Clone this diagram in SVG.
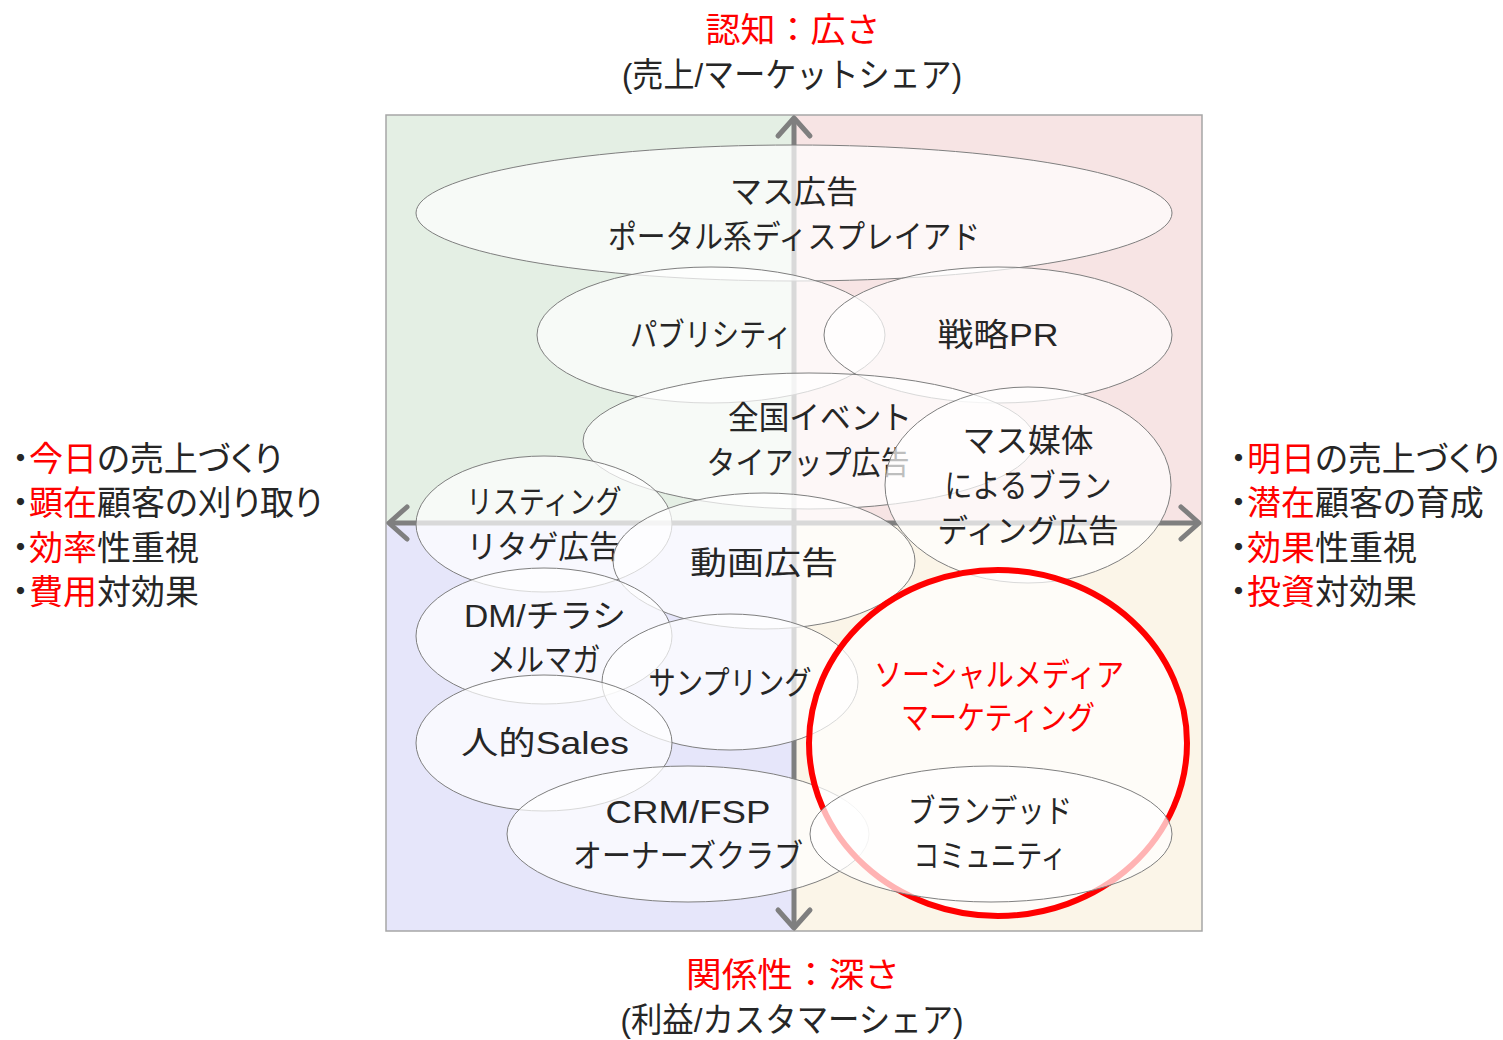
<svg xmlns="http://www.w3.org/2000/svg" width="1503" height="1040" viewBox="0 0 1503 1040">
<style>
text{font-family:"Liberation Sans","Noto Sans CJK JP",sans-serif;font-size:32px;fill:#262626;text-anchor:middle;dominant-baseline:central}
.side{font-size:34px;text-anchor:start;font-feature-settings:"palt"}
.ax{font-size:34px}
.r{fill:#FF0000}
.el{fill:#FFFFFF;fill-opacity:0.7;stroke:#7F7F7F;stroke-width:1}
.arrow{stroke:#7F7F7F;stroke-width:5;fill:none}
</style>
<defs>
<marker id="chev" markerUnits="userSpaceOnUse" markerWidth="40" markerHeight="40" viewBox="-30 -20 40 40" refX="0" refY="0" orient="auto-start-reverse" overflow="visible">
<path d="M-18,-16 L0,0 L-18,16" fill="none" stroke="#7F7F7F" stroke-width="5" stroke-linecap="round" stroke-linejoin="round"/>
</marker>
</defs>
<rect width="1503" height="1040" fill="#FFFFFF"/>
<g id="quadrants">
<rect x="386" y="115" width="408" height="408" fill="#E4EFE4"/>
<rect x="794" y="115" width="408" height="408" fill="#F7E4E4"/>
<rect x="386" y="523" width="408" height="408" fill="#E6E6FA"/>
<rect x="794" y="523" width="408" height="408" fill="#FBF5E8"/>
<rect x="386" y="115" width="816" height="816" fill="none" stroke="#A6A6A6" stroke-width="1.5"/>
</g>
<g id="connectors">
<line class="arrow" x1="794" y1="928" x2="794" y2="118" marker-start="url(#chev)" marker-end="url(#chev)"/>
<line class="arrow" x1="389" y1="523" x2="1199" y2="523" marker-start="url(#chev)" marker-end="url(#chev)"/>
</g>
<g id="node-mass">
<ellipse class="el" cx="794" cy="213" rx="378" ry="68"/>
<text x="794" y="192" textLength="128" lengthAdjust="spacingAndGlyphs">マス広告</text>
<text x="794" y="237" textLength="372" lengthAdjust="spacingAndGlyphs">ポータル系ディスプレイアド</text>
</g>
<g id="node-publicity">
<ellipse class="el" cx="711" cy="335" rx="174" ry="68"/>
<text x="711" y="335" textLength="162" lengthAdjust="spacingAndGlyphs">パブリシティ</text>
</g>
<g id="node-pr">
<ellipse class="el" cx="998" cy="335" rx="174" ry="68"/>
<text x="998" y="335" textLength="121" lengthAdjust="spacingAndGlyphs">戦略PR</text>
</g>
<g id="node-event">
<ellipse class="el" cx="809" cy="441" rx="226" ry="68"/>
<text x="820" y="418" textLength="184" lengthAdjust="spacingAndGlyphs">全国イベント</text>
<text x="808" y="463" textLength="203" lengthAdjust="spacingAndGlyphs">タイアップ広告</text>
</g>
<g id="node-branding">
<ellipse class="el" cx="1028" cy="485" rx="143" ry="98"/>
<text x="1028" y="441" textLength="131" lengthAdjust="spacingAndGlyphs">マス媒体</text>
<text x="1028" y="486" textLength="167" lengthAdjust="spacingAndGlyphs">によるブラン</text>
<text x="1028" y="531" textLength="181" lengthAdjust="spacingAndGlyphs">ディング広告</text>
</g>
<g id="node-listing">
<ellipse class="el" cx="544" cy="524" rx="128" ry="68"/>
<text x="544" y="502" textLength="155" lengthAdjust="spacingAndGlyphs">リスティング</text>
<text x="543" y="547" textLength="153" lengthAdjust="spacingAndGlyphs">リタゲ広告</text>
</g>
<g id="node-video">
<ellipse class="el" cx="764" cy="561" rx="151" ry="68"/>
<text x="764" y="563" textLength="148" lengthAdjust="spacingAndGlyphs">動画広告</text>
</g>
<g id="node-dm">
<ellipse class="el" cx="544" cy="636" rx="128" ry="68"/>
<text x="545" y="616" textLength="162" lengthAdjust="spacingAndGlyphs">DM/チラシ</text>
<text x="544" y="660" textLength="113" lengthAdjust="spacingAndGlyphs">メルマガ</text>
</g>
<g id="node-sampling">
<ellipse class="el" cx="730" cy="682" rx="128" ry="68"/>
<text x="730" y="683" textLength="163" lengthAdjust="spacingAndGlyphs">サンプリング</text>
</g>
<g id="node-sales">
<ellipse class="el" cx="544" cy="743" rx="128" ry="68"/>
<text x="545" y="743" textLength="168" lengthAdjust="spacingAndGlyphs">人的Sales</text>
</g>
<g id="node-crm">
<ellipse class="el" cx="688" cy="834" rx="181" ry="68"/>
<text x="688" y="812" textLength="165" lengthAdjust="spacingAndGlyphs">CRM/FSP</text>
<text x="688" y="856" textLength="230" lengthAdjust="spacingAndGlyphs">オーナーズクラブ</text>
</g>
<g id="node-sns">
<ellipse cx="998" cy="743" rx="189" ry="173" fill="#FFFFFF" fill-opacity="0.7" stroke="#FF0000" stroke-width="6"/>
<text class="r" x="999" y="675" textLength="250" lengthAdjust="spacingAndGlyphs">ソーシャルメディア</text>
<text class="r" x="998" y="718" textLength="194" lengthAdjust="spacingAndGlyphs">マーケティング</text>
</g>
<g id="node-community">
<ellipse class="el" cx="991" cy="834" rx="181" ry="68"/>
<text x="990" y="811" textLength="164" lengthAdjust="spacingAndGlyphs">ブランデッド</text>
<text x="990" y="856" textLength="153" lengthAdjust="spacingAndGlyphs">コミュニティ</text>
</g>
<g id="label-top">
<text class="ax r" x="793" y="30" textLength="175" lengthAdjust="spacingAndGlyphs">認知：広さ</text>
<text class="ax" x="792" y="75" textLength="340" lengthAdjust="spacingAndGlyphs">(売上/マーケットシェア)</text>
</g>
<g id="label-bottom">
<text class="ax r" x="793" y="975" textLength="214" lengthAdjust="spacingAndGlyphs">関係性：深さ</text>
<text class="ax" x="792" y="1020" textLength="343" lengthAdjust="spacingAndGlyphs">(利益/カスタマーシェア)</text>
</g>
<g id="label-left">
<text class="side" x="12" y="459">・<tspan class="r">今日</tspan>の売上づくり</text>
<text class="side" x="12" y="503">・<tspan class="r">顕在</tspan>顧客の刈り取り</text>
<text class="side" x="12" y="548">・<tspan class="r">効率</tspan>性重視</text>
<text class="side" x="12" y="592">・<tspan class="r">費用</tspan>対効果</text>
</g>
<g id="label-right">
<text class="side" x="1230" y="459">・<tspan class="r">明日</tspan>の売上づくり</text>
<text class="side" x="1230" y="503">・<tspan class="r">潜在</tspan>顧客の育成</text>
<text class="side" x="1230" y="548">・<tspan class="r">効果</tspan>性重視</text>
<text class="side" x="1230" y="592">・<tspan class="r">投資</tspan>対効果</text>
</g>
</svg>
